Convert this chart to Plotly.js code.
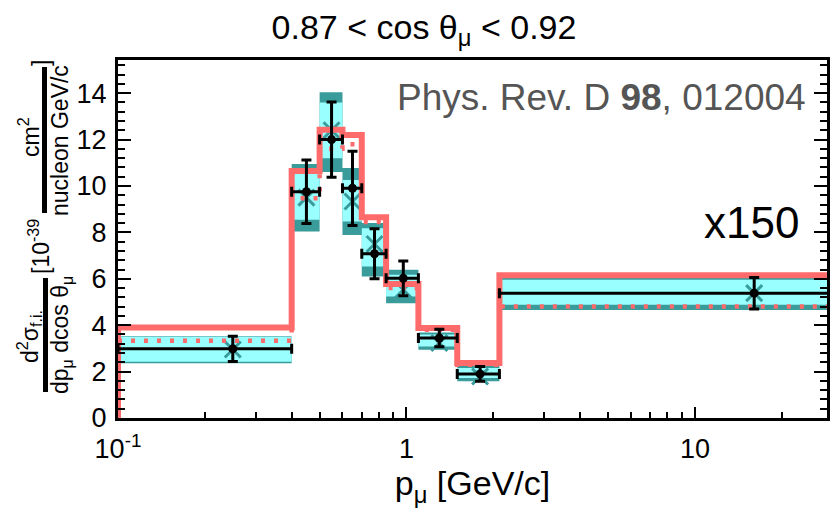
<!DOCTYPE html>
<html>
<head>
<meta charset="utf-8">
<script src="https://cdn.plot.ly/plotly-3.0.1.min.js"></script>
<style>html,body{margin:0;padding:0;background:#fff;}#chart{width:831px;height:511px;}</style>
</head>
<body>
<div id="chart"></div>
<script>
// ---- data ----
var binEdges   = [0.1, 0.4, 0.5, 0.6, 0.7, 0.85, 1.1, 1.5, 2.1, 30];
var dataVal    = [2.98, 9.75, 12.0, 9.9, 7.08, 6.02, 3.45, 1.9, 5.38];
var dataErr    = [0.54, 1.37, 1.62, 1.6, 1.08, 0.75, 0.38, 0.32, 0.68];
var mcVal      = [2.95, 9.5, 12.4, 9.33, 7.5, 5.53, 3.23, 1.79, 5.38];
var outerLo    = [2.36, 8.04, 10.6, 7.89, 6.10, 4.95, 2.94, 1.58, 4.66];
var outerHi    = [3.52, 10.95, 14.04, 10.77, 8.40, 6.39, 3.68, 2.30, 6.05];
var innerLo    = [2.42, 8.54, 11.2, 8.47, 6.53, 5.24, 3.08, 1.72, 4.88];
var innerHi    = [3.50, 10.74, 13.6, 10.26, 8.18, 6.17, 3.60, 2.15, 5.96];
var solidModel = [3.9, 10.65, 12.42, 12.2, 8.65, 5.78, 3.88, 2.37, 6.15];
var dotModel   = [3.33, 9.47, 11.6, 11.8, 8.45, 5.6, 3.8, 2.3, 4.81];
var xTickVals  = [0.1, 1, 10];
var xTickText  = ['10<sup>-1</sup>', '1', '10'];
var yTickVals  = [0, 2, 4, 6, 8, 10, 12, 14];

var teal = '#3A9B9B', cyan = '#99FFFF', red = '#FF6B6B';
var nb = dataVal.length;
var centers = [], halfW = [];
for (var i = 0; i < nb; i++) {
  centers.push((binEdges[i] + binEdges[i+1]) / 2);
  halfW.push((binEdges[i+1] - binEdges[i]) / 2);
}
function boxes(lo, hi) {
  var xs = [], ys = [];
  for (var i = 0; i < nb; i++) {
    var a = binEdges[i], b = binEdges[i+1];
    xs.push(a, b, b, a, a, null);
    ys.push(lo[i], lo[i], hi[i], hi[i], lo[i], null);
  }
  return {x: xs, y: ys};
}
function steps(vals, startZero) {
  var xs = [], ys = [];
  if (startZero) { xs.push(binEdges[0]); ys.push(0); }
  for (var i = 0; i < nb; i++) { xs.push(binEdges[i]); ys.push(vals[i]); }
  xs.push(binEdges[nb]); ys.push(vals[nb-1]);
  return {x: xs, y: ys};
}
var ob = boxes(outerLo, outerHi), ib = boxes(innerLo, innerHi);
var sS = steps(solidModel, true), sD = steps(dotModel, false);

var traces = [
  {x: ob.x, y: ob.y, type: 'scatter', mode: 'lines', fill: 'toself', fillcolor: teal, line: {width: 0, color: teal}, hoverinfo: 'skip', showlegend: false},
  {x: ib.x, y: ib.y, type: 'scatter', mode: 'lines', fill: 'toself', fillcolor: cyan, line: {width: 0, color: cyan}, hoverinfo: 'skip', showlegend: false},
  {x: centers, y: mcVal, type: 'scatter', mode: 'markers', marker: {symbol: 'x-thin-open', size: 16, line: {width: 3, color: teal}, color: teal}, showlegend: false},
  {x: sD.x, y: sD.y, type: 'scatter', mode: 'lines', line: {shape: 'hv', color: red, width: 4.5, dash: '4px,9px'}, showlegend: false},
  {x: sS.x, y: sS.y, type: 'scatter', mode: 'lines', line: {shape: 'hv', color: red, width: 6}, showlegend: false},
  {x: centers, y: dataVal, type: 'scatter', mode: 'markers', marker: {symbol: 'circle', size: 9, color: '#000'},
   error_y: {type: 'data', array: dataErr, visible: true, color: '#000', thickness: 3, width: 5},
   error_x: {type: 'data', array: halfW, visible: true, color: '#000', thickness: 3, width: 5},
   showlegend: false}
];

var L = 118, R = 827, T = 60, B = 418, W = 831, H = 511;
function px2x(p) { return (p - L) / (R - L); }
function px2y(p) { return (B - p) / (B - T); }
var font = 'Liberation Sans, Arial, Helvetica, sans-serif';
function lab(text, x, y, size, extra) {
  var a = {text: text, xref: 'paper', yref: 'paper', x: px2x(x), y: px2y(y), showarrow: false,
           xanchor: 'center', yanchor: 'middle', textangle: -90, font: {family: font, size: size, color: '#000'}};
  if (extra) for (var k in extra) a[k] = extra[k];
  return a;
}
var minorX = [];
for (var d = -1; d <= 1; d++) for (var m = 2; m <= 9; m++) minorX.push(m * Math.pow(10, d));

var layout = {
  width: W, height: H,
  margin: {l: L, r: W - R, t: T, b: H - B},
  paper_bgcolor: '#fff', plot_bgcolor: '#fff',
  font: {family: font, color: '#000'},
  title: {text: '0.87 &lt; cos θ<sub>μ</sub> &lt; 0.92', x: 424 / W, xanchor: 'center', y: 1 - 27 / H, yanchor: 'middle',
          font: {family: font, size: 34, color: '#000'}},
  xaxis: {type: 'log', range: [-1, Math.log10(28.7)], tickmode: 'array', tickvals: xTickVals, ticktext: xTickText,
          ticks: 'inside', ticklen: 11, tickwidth: 2, tickcolor: '#000', showline: true, linewidth: 3, linecolor: '#000',
          mirror: true, showgrid: false, zeroline: false, tickfont: {family: font, size: 27, color: '#000'},
          ticklabelstandoff: 5,
          minor: {tickmode: 'array', tickvals: minorX, ticks: 'inside', ticklen: 6, tickwidth: 2, tickcolor: '#000', showgrid: false},
          title: {text: 'p<sub>μ</sub> [GeV/c]', font: {family: font, size: 34, color: '#000'}, standoff: 6}},
  yaxis: {range: [0, 15.43], tickmode: 'array', tickvals: yTickVals,
          ticks: 'inside', ticklen: 13, tickwidth: 2, tickcolor: '#000', showline: true, linewidth: 3, linecolor: '#000',
          mirror: 'ticks', showgrid: false, zeroline: false, tickfont: {family: font, size: 27, color: '#000'},
          ticklabelstandoff: 3,
          minor: {dtick: 0.4, ticks: 'inside', ticklen: 7, tickwidth: 2, tickcolor: '#000', showgrid: false}},
  shapes: [
    {type: 'line', xref: 'paper', yref: 'paper', x0: px2x(45.5), x1: px2x(45.5), y0: px2y(392), y1: px2y(278), line: {color: '#000', width: 5}},
    {type: 'line', xref: 'paper', yref: 'paper', x0: px2x(44.5), x1: px2x(44.5), y0: px2y(213), y1: px2y(67), line: {color: '#000', width: 5}}
  ],
  annotations: [
    lab('d<sup>2</sup>σ<sub>f.i.</sub>', 29, 337, 23),
    lab('dp<sub>μ</sub> dcos θ<sub>μ</sub>', 61, 335, 23),
    lab('[10<sup>-39</sup>', 39, 247, 23),
    lab('cm<sup>2</sup>', 29, 137, 23),
    lab('nucleon GeV/c', 60, 141, 23),
    lab(']', 41, 63, 23),
    {text: 'Phys. Rev. D <b>98</b>, 012004', xref: 'paper', yref: 'paper', x: px2x(808), y: px2y(97), xanchor: 'right', yanchor: 'middle',
     showarrow: false, font: {family: font, size: 37, color: '#555555'}},
    {text: 'x150', xref: 'paper', yref: 'paper', x: px2x(801), y: px2y(222), xanchor: 'right', yanchor: 'middle',
     showarrow: false, font: {family: font, size: 44, color: '#000'}}
  ]
};
Plotly.newPlot('chart', traces, layout, {staticPlot: true, displayModeBar: false});
</script>
</body>
</html>
